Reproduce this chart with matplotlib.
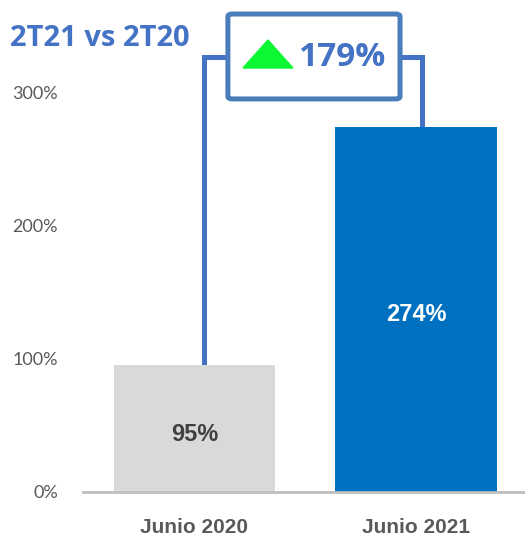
import matplotlib.pyplot as plt
from matplotlib.patches import FancyBboxPatch, Polygon
import numpy as np

##Data
categories = ['Junio 2020', 'Junio 2021']
values = [0.95, 2.74]
bar_labels = ['95%', '274%']
yticks = [0, 1, 2, 3]
ytick_labels = ['0%', '100%', '200%', '300%']
change_label = '179%'
title = '2T21 vs 2T20'

bar_colors = ['#D9D9D9', '#0070C0']
label_colors = ['#404040', '#FFFFFF']
blue = '#4472C4'

fig = plt.figure(figsize=(5.25, 5.43), dpi=100)
ax = fig.add_axes([83/525, 1-492/543, 1-83/525, 492/543])

x = np.arange(len(categories))
ax.bar(x, values, width=0.727, color=bar_colors, zorder=2)
ax.set_xlim(-0.503, 1.492)
ax.set_ylim(0, 492/133.33)

for i, v in enumerate(values):
    ax.text(x[i], v/2 - 0.04, bar_labels[i], ha='center', va='center',
            fontsize=17, fontweight='bold', color=label_colors[i],
            family='Liberation Sans')

##axes styling
for s in ['top', 'right', 'left']:
    ax.spines[s].set_visible(False)
ax.spines['bottom'].set_color('#BFBFBF')
ax.spines['bottom'].set_linewidth(2)
ax.set_yticks(yticks)
ax.set_yticklabels(ytick_labels, family='Lato', fontsize=13, color='#595959')
ax.tick_params(axis='y', length=0, pad=18)
ax.set_xticks(x)
ax.set_xticklabels(categories, family='Liberation Sans', fontweight='bold',
                   fontsize=15, color='#595959')
ax.tick_params(axis='x', length=0, pad=19)

##bracket
yline = 3.26
xl, xr = 0.043, 1.027
ax.plot([xl, xl, 0.151], [values[0], yline, yline], color=blue, lw=3.6,
        solid_capstyle='butt', solid_joinstyle='miter', zorder=1)
ax.plot([0.928, xr, xr], [yline, yline, values[1]], color=blue, lw=3.6,
        solid_capstyle='butt', solid_joinstyle='miter', zorder=1)
box = FancyBboxPatch((0.151, 2.948), 0.928-0.151, 3.585-2.948,
                     boxstyle='round,pad=0,rounding_size=0.02',
                     facecolor='white', edgecolor='#4A7EBB', lw=3.6, zorder=3,
                     mutation_aspect=1)
ax.add_patch(box)

# green triangle (pixel coords converted to data)
tri = Polygon([[(243-194.5)/221.5, (492-68)/133.33],
               [(293-194.5)/221.5, (492-68)/133.33],
               [(268-194.5)/221.5, (492-40)/133.33]],
              closed=True, color='#0CF833', zorder=4)
ax.add_patch(tri)
ax.text((343-194.5)/221.5, (492-57)/133.33, change_label, ha='center', va='center',
        fontsize=24, fontweight='bold', color=blue, family='Open Sans', zorder=4)

fig.text(10/525, 1-38/543, title, ha='left', va='center', fontsize=21,
         fontweight='bold', color=blue, family='Open Sans')

fig.savefig('out.png', dpi=100)
